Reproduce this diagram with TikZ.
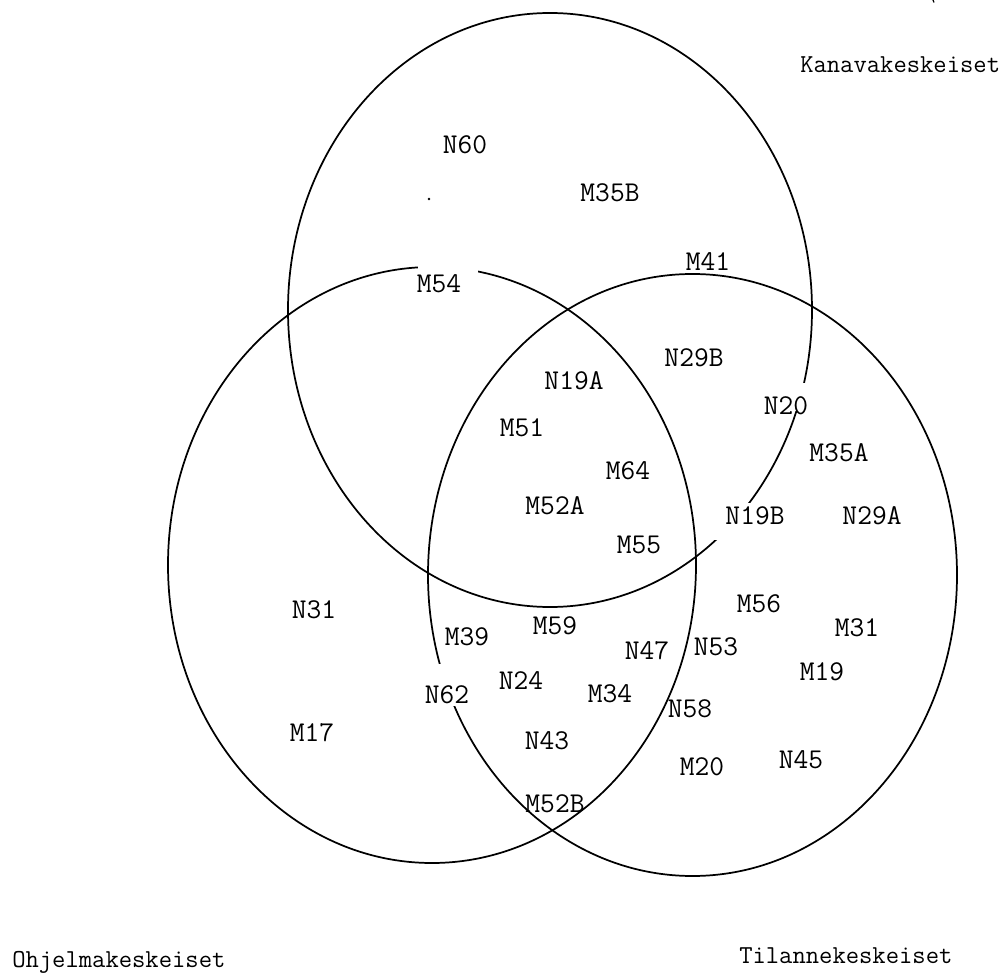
\documentclass[tikz,border=0pt]{standalone}
\usepackage{fontspec}
\begin{document}
\begin{tikzpicture}[x=0.75pt,y=-0.75pt,
  ring/.style={draw=black,line width=1.3pt},
  lbl/.style={inner sep=0pt,font=\ttfamily\fontsize{21.5}{21.5}\selectfont},
  ttl/.style={inner sep=0pt,anchor=base west,font=\ttfamily\fontsize{19.4}{19.4}\selectfont},
  mask/.style={fill=white,draw=none}]
\useasboundingbox (0,0) rectangle (1008,973);
% sets
\draw[ring] (550,310) ellipse [x radius=196.5pt, y radius=222.75pt];
\draw[ring] (432,565) ellipse [x radius=198pt, y radius=223.5pt];
\draw[ring] (692.5,575) ellipse [x radius=198.375pt, y radius=225.75pt];
% white label boxes that hide parts of the outlines
\fill[mask] (418,252) rectangle (478,285);
\fill[mask] (768,383) rectangle (830,411);
\fill[mask] (712,503) rectangle (795,540);
\fill[mask] (420,664) rectangle (478,706);
% small marks
\fill (429,199) circle [radius=1.1pt];
\draw[line width=0.9pt] (933,0) -- (934,2.5);
% titles
\node[ttl] (tk) at (800,73) {Kanavakeskeiset};
\node[ttl] (to) at (12,967) {Ohjelmakeskeiset};
\node[ttl] (tt) at (739,963) {Tilannekeskeiset};
% labels
\node[lbl] (n60) at (465,145) {N60};
\node[lbl] (m35b) at (610,193) {M35B};
\node[lbl] (m41) at (708,262) {M41};
\node[lbl] (m54) at (439,284) {M54};
\node[lbl] (n29b) at (694,358) {N29B};
\node[lbl] (n19a) at (574,381) {N19A};
\node[lbl] (n20) at (786,406) {N20};
\node[lbl] (m51) at (522,428) {M51};
\node[lbl] (m35a) at (839,453) {M35A};
\node[lbl] (m64) at (628,471) {M64};
\node[lbl] (m52a) at (555,506) {M52A};
\node[lbl] (n19b) at (755,516) {N19B};
\node[lbl] (n29a) at (872,516) {N29A};
\node[lbl] (m55) at (639,545) {M55};
\node[lbl] (n31) at (314,610) {N31};
\node[lbl] (m56) at (759,604) {M56};
\node[lbl] (m59) at (555,626) {M59};
\node[lbl] (m31) at (857,628) {M31};
\node[lbl] (m39) at (467,637) {M39};
\node[lbl] (n47) at (647,651) {N47};
\node[lbl] (n53) at (716,647) {N53};
\node[lbl] (m19) at (822,672) {M19};
\node[lbl] (n24) at (521,681) {N24};
\node[lbl] (n62) at (447,695) {N62};
\node[lbl] (m34) at (610,694) {M34};
\node[lbl] (n58) at (690,709) {N58};
\node[lbl] (m17) at (312,733) {M17};
\node[lbl] (n43) at (547,741) {N43};
\node[lbl] (m20) at (702,767) {M20};
\node[lbl] (n45) at (801,760) {N45};
\node[lbl] (m52b) at (555,804) {M52B};
\end{tikzpicture}
\end{document}
